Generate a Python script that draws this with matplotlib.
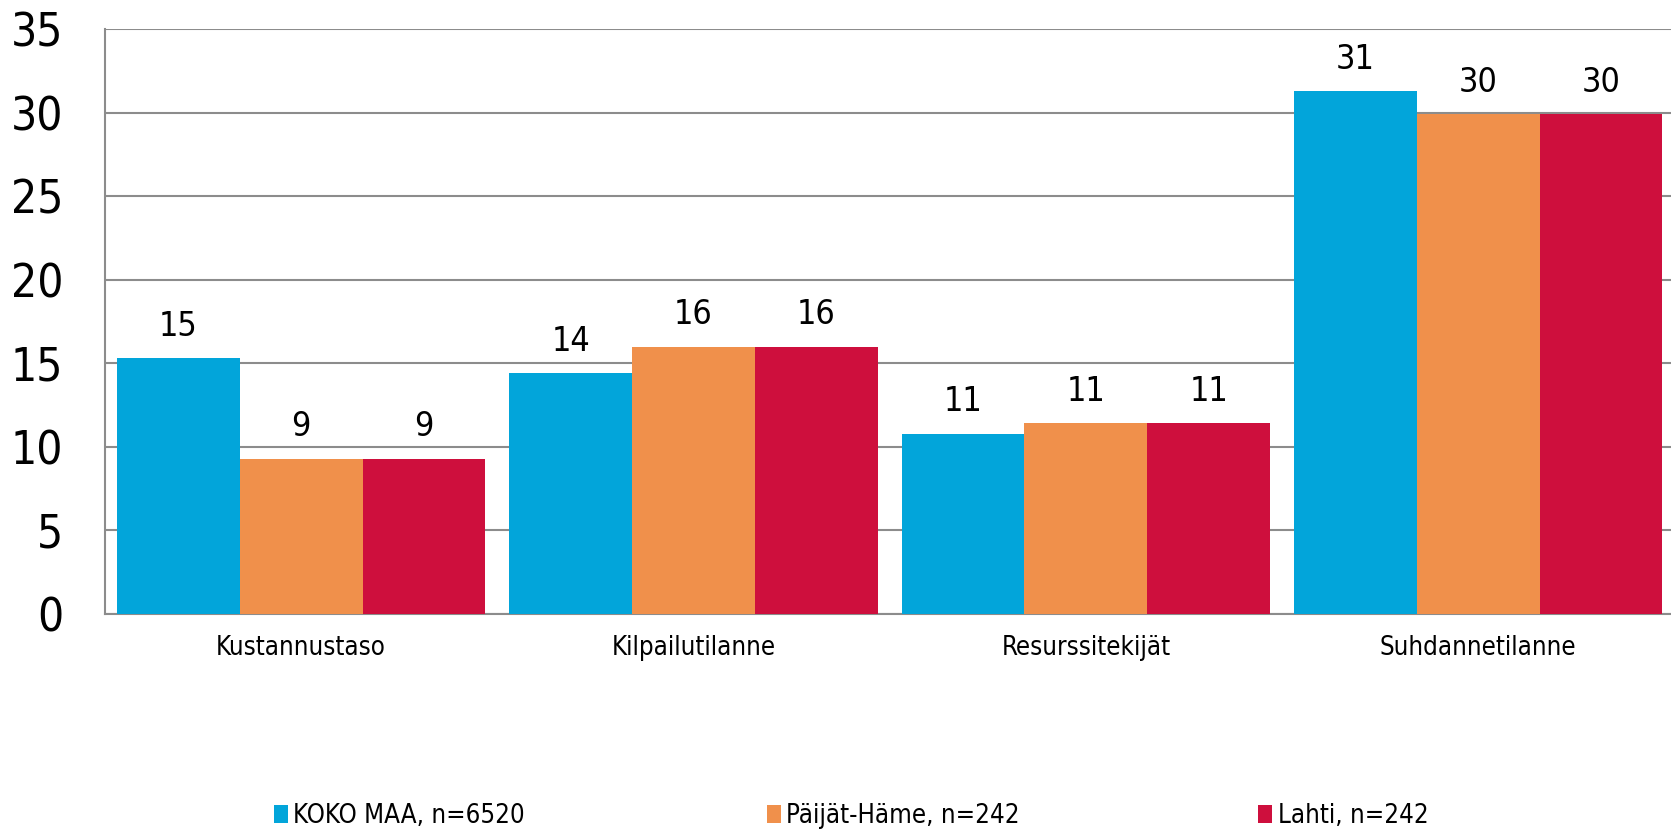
import numpy as np
import matplotlib
matplotlib.use('Agg')
import matplotlib.pyplot as plt

categories = ['Kustannustaso', 'Kilpailutilanne', 'Resurssitekijät', 'Suhdannetilanne']
series_names = ['KOKO MAA, n=6520', 'Päijät-Häme, n=242', 'Lahti, n=242']
koko_maa = [15.3, 14.4, 10.8, 31.3]
paijat_hame = [9.3, 16.0, 11.4, 29.9]
lahti = [9.3, 16.0, 11.4, 29.9]
colors = ['#02A5DA', '#F0904B', '#CE0F3D']

plt.rcParams['font.family'] = ['DejaVu Sans']
plt.rcParams['font.stretch'] = 'condensed'

fig = plt.figure(figsize=(16.71, 8.30), dpi=100)
ax = fig.add_axes([0.0628, 0.2602, 0.9372 + 0.002, 0.7048])

x = np.arange(len(categories))
w = 0.313
bars = []
for i, (vals, name) in enumerate(zip([koko_maa, paijat_hame, lahti], series_names)):
    b = ax.bar(x + (i - 1) * w, vals, w, color=colors[i], label=name, zorder=3)
    ax.bar_label(b, labels=[f'{v:.0f}' for v in vals], padding=11, fontsize=24.5)
    bars.append(b)

ax.set_xlim(-0.5, 3.5)
ax.set_ylim(0, 35)
ax.set_yticks(range(0, 36, 5))
ax.set_xticks(x)
ax.set_xticklabels(categories, fontsize=18.5)
ax.tick_params(axis='y', labelsize=33, length=0, pad=30)
ax.tick_params(axis='x', length=0, pad=15)
ax.grid(axis='y', color='#8C8C8C', linewidth=1.5, zorder=0)
for s in ['top', 'right']:
    ax.spines[s].set_visible(False)
for s in ['left', 'bottom']:
    ax.spines[s].set_color('#8C8C8C')
    ax.spines[s].set_linewidth(1.5)

# one legend per entry so they sit at the same spots as the original
legend_x = [0.164, 0.459, 0.753]
for b, name, lx in zip(bars, series_names, legend_x):
    fig.legend([b], [name], loc='center left', bbox_to_anchor=(lx, 0.017),
               frameon=False, fontsize=18.5, handlelength=0.55, handleheight=0.75,
               handletextpad=0.2, borderpad=0, borderaxespad=0)

fig.savefig('out.png', dpi=100)
